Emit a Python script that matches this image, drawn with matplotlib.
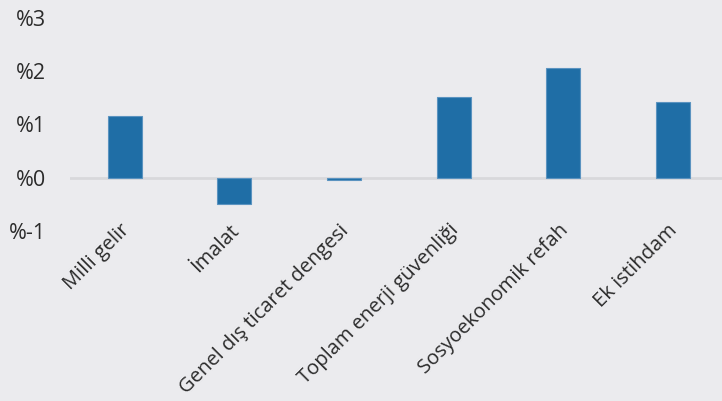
import matplotlib.pyplot as plt
import matplotlib.transforms as mtransforms
import numpy as np

# Data
categories = ['Milli gelir', 'İmalat', 'Genel dış ticaret dengesi',
              'Toplam enerji güvenliği', 'Sosyoekonomik refah', 'Ek istihdam']
values = [1.16, -0.49, -0.05, 1.52, 2.06, 1.43]
y_ticks = [-1, 0, 1, 2, 3]
y_labels = ['%-1', '%0', '%1', '%2', '%3']

bg = '#ebebee'
bar_color = '#1f6ea6'

plt.rcParams['font.family'] = ['Open Sans', 'DejaVu Sans']

fig = plt.figure(figsize=(7.22, 4.01), dpi=100, facecolor=bg)
ax = fig.add_axes([70 / 722, 1 - 231 / 401, 652 / 722, 213 / 401])
ax.set_facecolor(bg)

index = np.arange(len(categories))
ax.bar(index, values, 0.31, color=bar_color, edgecolor='#5b93c0', linewidth=0.8)
ax.axhline(0, color='#d8d8db', linewidth=2, zorder=0)

ax.set_xlim(-0.5, 5.45)
ax.set_ylim(-1, 3)
ax.set_yticks(y_ticks)
ax.set_yticklabels(y_labels, fontsize=15.5, color='#2b2b2b')
ax.set_xticks(index)
ax.set_xticklabels(categories, rotation=45, ha='right', rotation_mode='anchor',
                   fontsize=14.5, color='#2b2b2b')

ax.tick_params(axis='y', length=0, pad=17.5)
ax.tick_params(axis='x', length=0, pad=4)
for side in ax.spines.values():
    side.set_visible(False)

# move the rotated labels so they end just under each bar
offset = mtransforms.ScaledTranslation(-5 / 100, 16 / 100, fig.dpi_scale_trans)
for lbl in ax.get_xticklabels():
    lbl.set_transform(lbl.get_transform() + offset)

fig.savefig('out.png', dpi=100, facecolor=bg)
